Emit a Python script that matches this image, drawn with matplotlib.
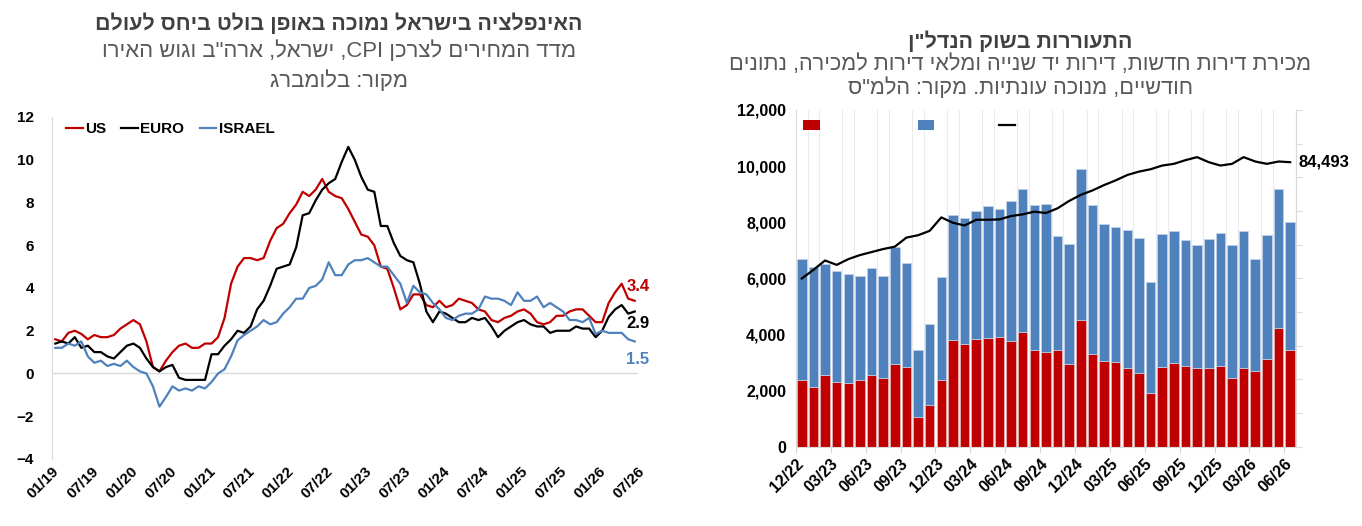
import re
import numpy as np
import matplotlib
matplotlib.use("Agg")
import matplotlib.pyplot as plt
from matplotlib.patches import Patch
from matplotlib.lines import Line2D

plt.rcParams['font.family'] = ['Liberation Sans', 'DejaVu Sans']

# ---------- data: CPI (left chart), monthly 01/19 .. 06/26 ----------
us_cpi = [1.6, 1.5, 1.9, 2.0, 1.85, 1.6, 1.8, 1.7, 1.7, 1.8, 2.1, 2.3,
          2.5, 2.3, 1.5, 0.3, 0.1, 0.6, 1.0, 1.3, 1.4, 1.2, 1.2, 1.4,
          1.4, 1.7, 2.6, 4.2, 5.0, 5.4, 5.4, 5.3, 5.4, 6.2, 6.8, 7.0,
          7.5, 7.9, 8.5, 8.3, 8.6, 9.1, 8.5, 8.3, 8.2, 7.7, 7.1, 6.5,
          6.4, 6.0, 5.0, 4.9, 4.0, 3.0, 3.2, 3.7, 3.7, 3.2, 3.1, 3.4,
          3.1, 3.2, 3.5, 3.4, 3.3, 3.0, 2.9, 2.5, 2.4, 2.6, 2.7, 2.9,
          3.0, 2.8, 2.4, 2.3, 2.4, 2.7, 2.7, 2.9, 3.0, 3.0, 2.7, 2.4,
          2.4, 3.3, 3.8, 4.2, 3.5, 3.4]
euro_cpi = [1.4, 1.5, 1.4, 1.7, 1.2, 1.3, 1.0, 1.0, 0.8, 0.7, 1.0, 1.3,
            1.4, 1.2, 0.7, 0.3, 0.1, 0.3, 0.4, -0.2, -0.3, -0.3, -0.3, -0.3,
            0.9, 0.9, 1.3, 1.6, 2.0, 1.9, 2.2, 3.0, 3.4, 4.1, 4.9, 5.0,
            5.1, 5.9, 7.4, 7.5, 8.1, 8.6, 8.9, 9.1, 9.9, 10.6, 10.0, 9.2,
            8.6, 8.5, 6.9, 6.9, 6.1, 5.5, 5.3, 5.2, 4.2, 2.9, 2.4, 2.9,
            2.8, 2.6, 2.4, 2.4, 2.6, 2.5, 2.6, 2.2, 1.7, 2.0, 2.2, 2.4,
            2.5, 2.3, 2.2, 2.2, 1.9, 2.0, 2.0, 2.0, 2.2, 2.1, 2.1, 1.7,
            2.0, 2.65, 3.0, 3.2, 2.8, 2.9]
israel_cpi = [1.2, 1.2, 1.4, 1.3, 1.5, 0.8, 0.5, 0.6, 0.35, 0.45, 0.35, 0.6,
              0.3, 0.1, 0.0, -0.6, -1.55, -1.1, -0.6, -0.8, -0.7, -0.8, -0.6, -0.7,
              -0.4, 0.0, 0.2, 0.8, 1.55, 1.8, 2.0, 2.2, 2.5, 2.3, 2.4, 2.8,
              3.1, 3.5, 3.5, 4.0, 4.1, 4.4, 5.2, 4.6, 4.6, 5.1, 5.3, 5.3,
              5.4, 5.2, 5.0, 5.0, 4.6, 4.2, 3.3, 4.1, 3.8, 3.7, 3.3, 3.0,
              2.6, 2.5, 2.7, 2.8, 2.8, 3.0, 3.6, 3.5, 3.5, 3.4, 3.2, 3.8,
              3.4, 3.4, 3.6, 3.1, 3.3, 3.1, 2.9, 2.5, 2.5, 2.4, 2.6, 1.85,
              2.0, 1.9, 1.9, 1.9, 1.6, 1.5]
cpi_ticks = ['01/19', '07/19', '01/20', '07/20', '01/21', '07/21', '01/22', '07/22',
             '01/23', '07/23', '01/24', '07/24', '01/25', '07/25', '01/26', '07/26']

# ---------- data: housing (right chart), monthly 12/22 .. 06/26 ----------
new_sales = [2360, 2140, 2560, 2320, 2270, 2360, 2540, 2450, 2960, 2850,
             1040, 1500, 2360, 3790, 3650, 3820, 3890, 3920, 3770, 4070,
             3460, 3390, 3460, 2960, 4500, 3290, 3040, 3010, 2820, 2640,
             1930, 2850, 3000, 2880, 2790, 2820, 2890, 2450, 2810, 2710,
             3130, 4230, 3460]
total_sales = [6700, 6420, 6520, 6270, 6160, 6090, 6370, 6080, 7110, 6530,
               3450, 4380, 6030, 8260, 8150, 8400, 8590, 8470, 8750, 9200,
               8620, 8660, 7510, 7230, 9890, 8630, 7930, 7830, 7740, 7430,
               5880, 7570, 7670, 7370, 7190, 7410, 7630, 7200, 7670, 6690,
               7560, 9200, 8020]
inventory = [49950, 52500, 55300, 54000, 55700, 56900, 57800, 58700, 59400, 62100,
             62800, 64100, 68100, 66500, 65700, 67400, 67400, 67500, 68500, 69000,
             69800, 69400, 70800, 73000, 74800, 76100, 77700, 79100, 80700, 81700,
             82400, 83500, 84000, 85100, 86000, 84500, 83500, 84000, 86000, 84700,
             84000, 84700, 84493]
second_hand = [t - n for t, n in zip(total_sales, new_sales)]
house_ticks = ['12/22', '03/23', '06/23', '09/23', '12/23', '03/24', '06/24', '09/24',
               '12/24', '03/25', '06/25', '09/25', '12/25', '03/26', '06/26']

left_title = 'האינפלציה בישראל נמוכה באופן בולט ביחס לעולם'
left_sub = ['מדד המחירים לצרכן CPI, ישראל, ארה"ב וגוש האירו', 'מקור: בלומברג']
right_title = 'התעוררות בשוק הנדל"ן'
right_sub = ['מכירת דירות חדשות, דירות יד שנייה ומלאי דירות למכירה, נתונים',
             'חודשיים, מנוכה עונתיות. מקור: הלמ"ס']

RED = '#C00000'
BLUE = '#4F81BD'
GRID = '#D9D9D9'
SUB = '#595959'


def rtl(s):
    # visual order for a right-to-left line, latin/digit runs kept as they are
    tokens = re.findall(r'[A-Za-z0-9]+|.', s)
    return ''.join(tokens[::-1])


fig = plt.figure(figsize=(13.62, 5.26), dpi=100)

# ================= left: CPI =================
ax = fig.add_axes([0.0382, 0.1274, 0.4302, 0.6502])
x = np.arange(len(us_cpi))
ax.plot(x, us_cpi, color=RED, lw=1.6, label='US')
ax.plot(x, euro_cpi, color='black', lw=1.6, label='EURO')
ax.plot(x, israel_cpi, color=BLUE, lw=1.6, label='ISRAEL')
ax.axhline(0, color=GRID, lw=1, zorder=0)
ax.set_xlim(-0.5, len(us_cpi) - 0.5)
ax.set_ylim(-4, 12)
ax.set_yticks(range(-4, 13, 2))
ax.set_xticks(np.arange(len(cpi_ticks)) * 6 - 0.5)
ax.set_xticklabels(cpi_ticks, rotation=45, ha='right', rotation_mode='anchor')
for s in ['top', 'right', 'bottom']:
    ax.spines[s].set_visible(False)
ax.spines['left'].set_color(GRID)
ax.tick_params(axis='both', length=0, labelsize=11)
ax.tick_params(axis='y', pad=13)
ax.tick_params(axis='x', pad=4)
for lab in ax.get_xticklabels() + ax.get_yticklabels():
    lab.set_fontweight('bold')

ax.legend(loc='upper left', ncol=3, frameon=False, handlelength=1.1,
          handletextpad=0.15, columnspacing=1.0, bbox_to_anchor=(0.0, 1.025),
          prop={'weight': 'bold', 'size': 11})

last = len(us_cpi) - 1
ax.annotate(f'{us_cpi[-1]:.1f}', (last, us_cpi[-1]), xytext=(-6, 10), textcoords='offset points',
            color=RED, fontsize=12, fontweight='bold', va='center', ha='left', annotation_clip=False)
ax.annotate(f'{euro_cpi[-1]:.1f}', (last, euro_cpi[-1]), xytext=(-6, -9), textcoords='offset points',
            color='black', fontsize=12, fontweight='bold', va='center', ha='left', annotation_clip=False)
ax.annotate(f'{israel_cpi[-1]:.1f}', (last, israel_cpi[-1]), xytext=(-6, -13), textcoords='offset points',
            color=BLUE, fontsize=12, fontweight='bold', va='center', ha='left', annotation_clip=False)

fig.text(0.249, 0.956, rtl(left_title), ha='center', va='center', fontsize=15.4, fontweight='bold', color='#404040')
fig.text(0.249, 0.903, rtl(left_sub[0]), ha='center', va='center', fontsize=15.9, color=SUB)
fig.text(0.249, 0.846, rtl(left_sub[1]), ha='center', va='center', fontsize=15.9, color=SUB)

# ================= right: housing =================
bx = fig.add_axes([0.5844, 0.1508, 0.3671, 0.6401])
xb = np.arange(len(new_sales))
bx.bar(xb, new_sales, width=0.82, color=RED, edgecolor='#E6B8B8', linewidth=0.5, zorder=2)
bx.bar(xb, second_hand, bottom=new_sales, width=0.82, color=BLUE, edgecolor='#C5D5EA',
       linewidth=0.5, zorder=2)
bx.set_xlim(-0.5, len(new_sales) - 0.5)
bx.set_ylim(0, 12000)
bx.set_yticks(range(0, 12001, 2000))
bx.set_yticklabels([f'{v:,}' for v in range(0, 12001, 2000)])
bx.set_xticks(np.arange(len(house_ticks)) * 3 - 0.5)
bx.set_xticklabels(house_ticks, rotation=45, ha='right', rotation_mode='anchor')
bx.set_xticks(np.arange(len(new_sales) + 1) - 0.5, minor=True)
bx.grid(axis='x', which='minor', color='#EBEBEB', lw=0.8, zorder=0)
for s in ['top', 'right']:
    bx.spines[s].set_visible(False)
bx.spines['left'].set_color(GRID)
bx.spines['bottom'].set_color(GRID)
bx.tick_params(axis='y', length=0, labelsize=11.5, pad=7)
bx.tick_params(axis='x', which='major', length=4, color=GRID, labelsize=11.5, pad=3)
bx.tick_params(axis='x', which='minor', length=0)
for lab in bx.get_xticklabels() + bx.get_yticklabels():
    lab.set_fontweight('bold')

bx2 = bx.twinx()
bx2.plot(xb, inventory, color='black', lw=1.6, zorder=3)
bx2.set_ylim(0, 100000)
bx2.set_yticks(range(0, 100001, 10000))
bx2.set_yticklabels([])
bx2.tick_params(axis='y', length=4, color=GRID)
for s in ['top', 'left', 'bottom']:
    bx2.spines[s].set_visible(False)
bx2.spines['right'].set_color(GRID)
bx2.annotate(f'{inventory[-1]:,}', (xb[-1], inventory[-1]), xytext=(6, 0), textcoords='offset points',
             fontsize=12, fontweight='bold', va='center', ha='left', annotation_clip=False)

# legend keys only, labels are blank (spaces keep the uneven gaps)
handles = [Patch(facecolor=RED), Patch(facecolor=BLUE), Line2D([], [], color='black', lw=1.6)]
bx.legend(handles, [' ' * 8, '', ''], loc='upper left', ncol=3, frameon=False,
          handlelength=1.1, handleheight=0.55, handletextpad=0.0, columnspacing=4.2,
          bbox_to_anchor=(-0.014, 1.013), prop={'size': 11})

fig.text(0.749, 0.922, rtl(right_title), ha='center', va='center', fontsize=15.4, fontweight='bold', color='#404040')
fig.text(0.749, 0.878, rtl(right_sub[0]), ha='center', va='center', fontsize=15.7, color=SUB)
fig.text(0.749, 0.832, rtl(right_sub[1]), ha='center', va='center', fontsize=15.7, color=SUB)

fig.savefig('out.png', dpi=100)
